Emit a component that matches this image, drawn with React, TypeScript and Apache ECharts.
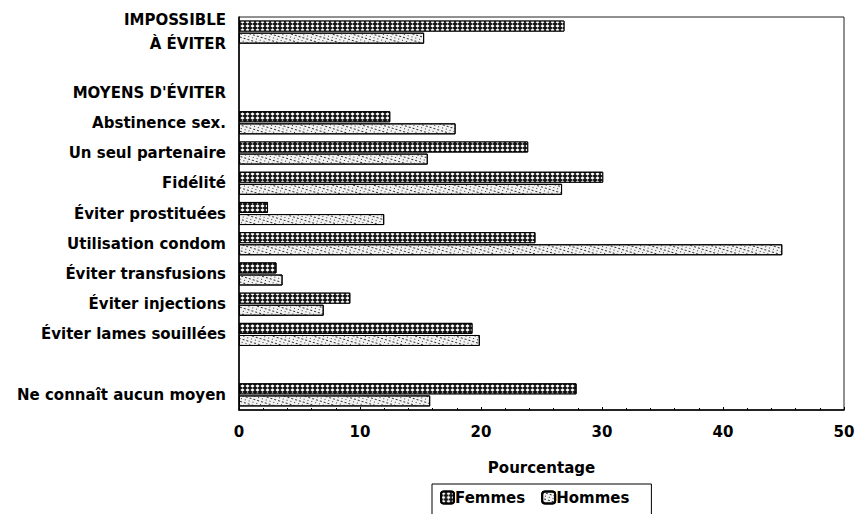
import React, { useEffect, useRef } from "react";
import * as echarts from "echarts";

const categories = [
  "IMPOSSIBLE\nÀ ÉVITER",
  "",
  "MOYENS D'ÉVITER",
  "Abstinence sex.",
  "Un seul partenaire",
  "Fidélité",
  "Éviter prostituées",
  "Utilisation condom",
  "Éviter transfusions",
  "Éviter injections",
  "Éviter lames souillées",
  " ",
  "Ne connaît aucun moyen",
];

const femmes = [26.9, null, null, 12.5, 23.9, 30.1, 2.4, 24.5, 3.1, 9.2, 19.3, null, 27.9];
const hommes = [15.3, null, null, 17.9, 15.6, 26.7, 12.0, 44.9, 3.6, 7.0, 19.9, null, 15.8];

const xTicks = { min: 0, max: 50, interval: 10 };
const xName = "Pourcentage";
const seriesNames = ["Femmes", "Hommes"];

const FONT = "'DejaVu Sans', sans-serif";

export default function App() {
  const ref = useRef<HTMLDivElement>(null);
  useEffect(() => {
    if (!ref.current) return;
    const chart = echarts.init(ref.current, undefined, { renderer: "svg" });
    chart.setOption({
      animation: false,
      backgroundColor: "#fff",
      aria: { decal: { show: false } },
      grid: {
        left: 239,
        right: 14,
        top: 17,
        bottom: 104,
        show: true,
        borderColor: "#222",
        borderWidth: 1,
        containLabel: false,
        outerBoundsMode: "none",
      },
      legend: {
        data: seriesNames,
        left: 432,
        top: 484,
        orient: "horizontal",
        borderColor: "#000",
        borderWidth: 1,
        padding: [6, 22, 10, 8],
        itemWidth: 13,
        itemHeight: 12,
        itemGap: 16,
        textStyle: { fontFamily: FONT, fontWeight: "bold", fontSize: 15, color: "#000", padding: [0, 0, 0, -4] },
      },
      xAxis: {
        type: "value",
        min: xTicks.min,
        max: xTicks.max,
        interval: xTicks.interval,
        name: xName,
        nameLocation: "middle",
        nameGap: 50,
        nameTextStyle: { fontFamily: FONT, fontWeight: "bold", fontSize: 15, color: "#000" },
        axisLine: { show: true, lineStyle: { color: "#000", width: 1.5 } },
        axisTick: { show: true, inside: true, length: 3, lineStyle: { color: "#000" } },
        minorTick: { show: true, splitNumber: 5, length: 2, lineStyle: { color: "#000" } },
        splitLine: { show: false },
        axisLabel: { fontFamily: FONT, fontWeight: "bold", fontSize: 15, color: "#000", margin: 14 },
      },
      yAxis: {
        type: "category",
        data: categories,
        inverse: true,
        axisLine: { show: true, lineStyle: { color: "#000", width: 1.5 } },
        axisTick: { show: false },
        axisLabel: {
          fontFamily: FONT,
          fontWeight: "bold",
          fontSize: 15,
          color: "#000",
          margin: 13,
          align: "right",
          lineHeight: 24,
        },
      },
      series: [
        {
          name: seriesNames[0],
          type: "bar",
          data: femmes,
          barWidth: 11,
          barGap: "10%",
          itemStyle: {
            color: "#111",
            borderColor: "#000",
            borderWidth: 1,
            decal: {
              symbol: "diamond",
              symbolSize: 0.85,
              color: "#fff",
              dashArrayX: [5, 0],
              dashArrayY: [4, 0],
              rotation: 0,
            },
          },
        },
        {
          name: seriesNames[1],
          type: "bar",
          data: hommes,
          barWidth: 11,
          barGap: "10%",
          itemStyle: {
            color: "#f2f2f2",
            borderColor: "#000",
            borderWidth: 1,
            decal: {
              symbol: "rect",
              symbolSize: 1,
              color: "#333",
              dashArrayX: [[1, 3], [2, 2]],
              dashArrayY: [1, 2],
              rotation: 0.3,
            },
          },
        },
      ],
    });
    return () => chart.dispose();
  }, []);
  return (
    <div
      ref={ref}
      style={{ position: "absolute", left: 0, top: 0, width: 858, height: 514, overflow: "hidden" }}
    />
  );
}
